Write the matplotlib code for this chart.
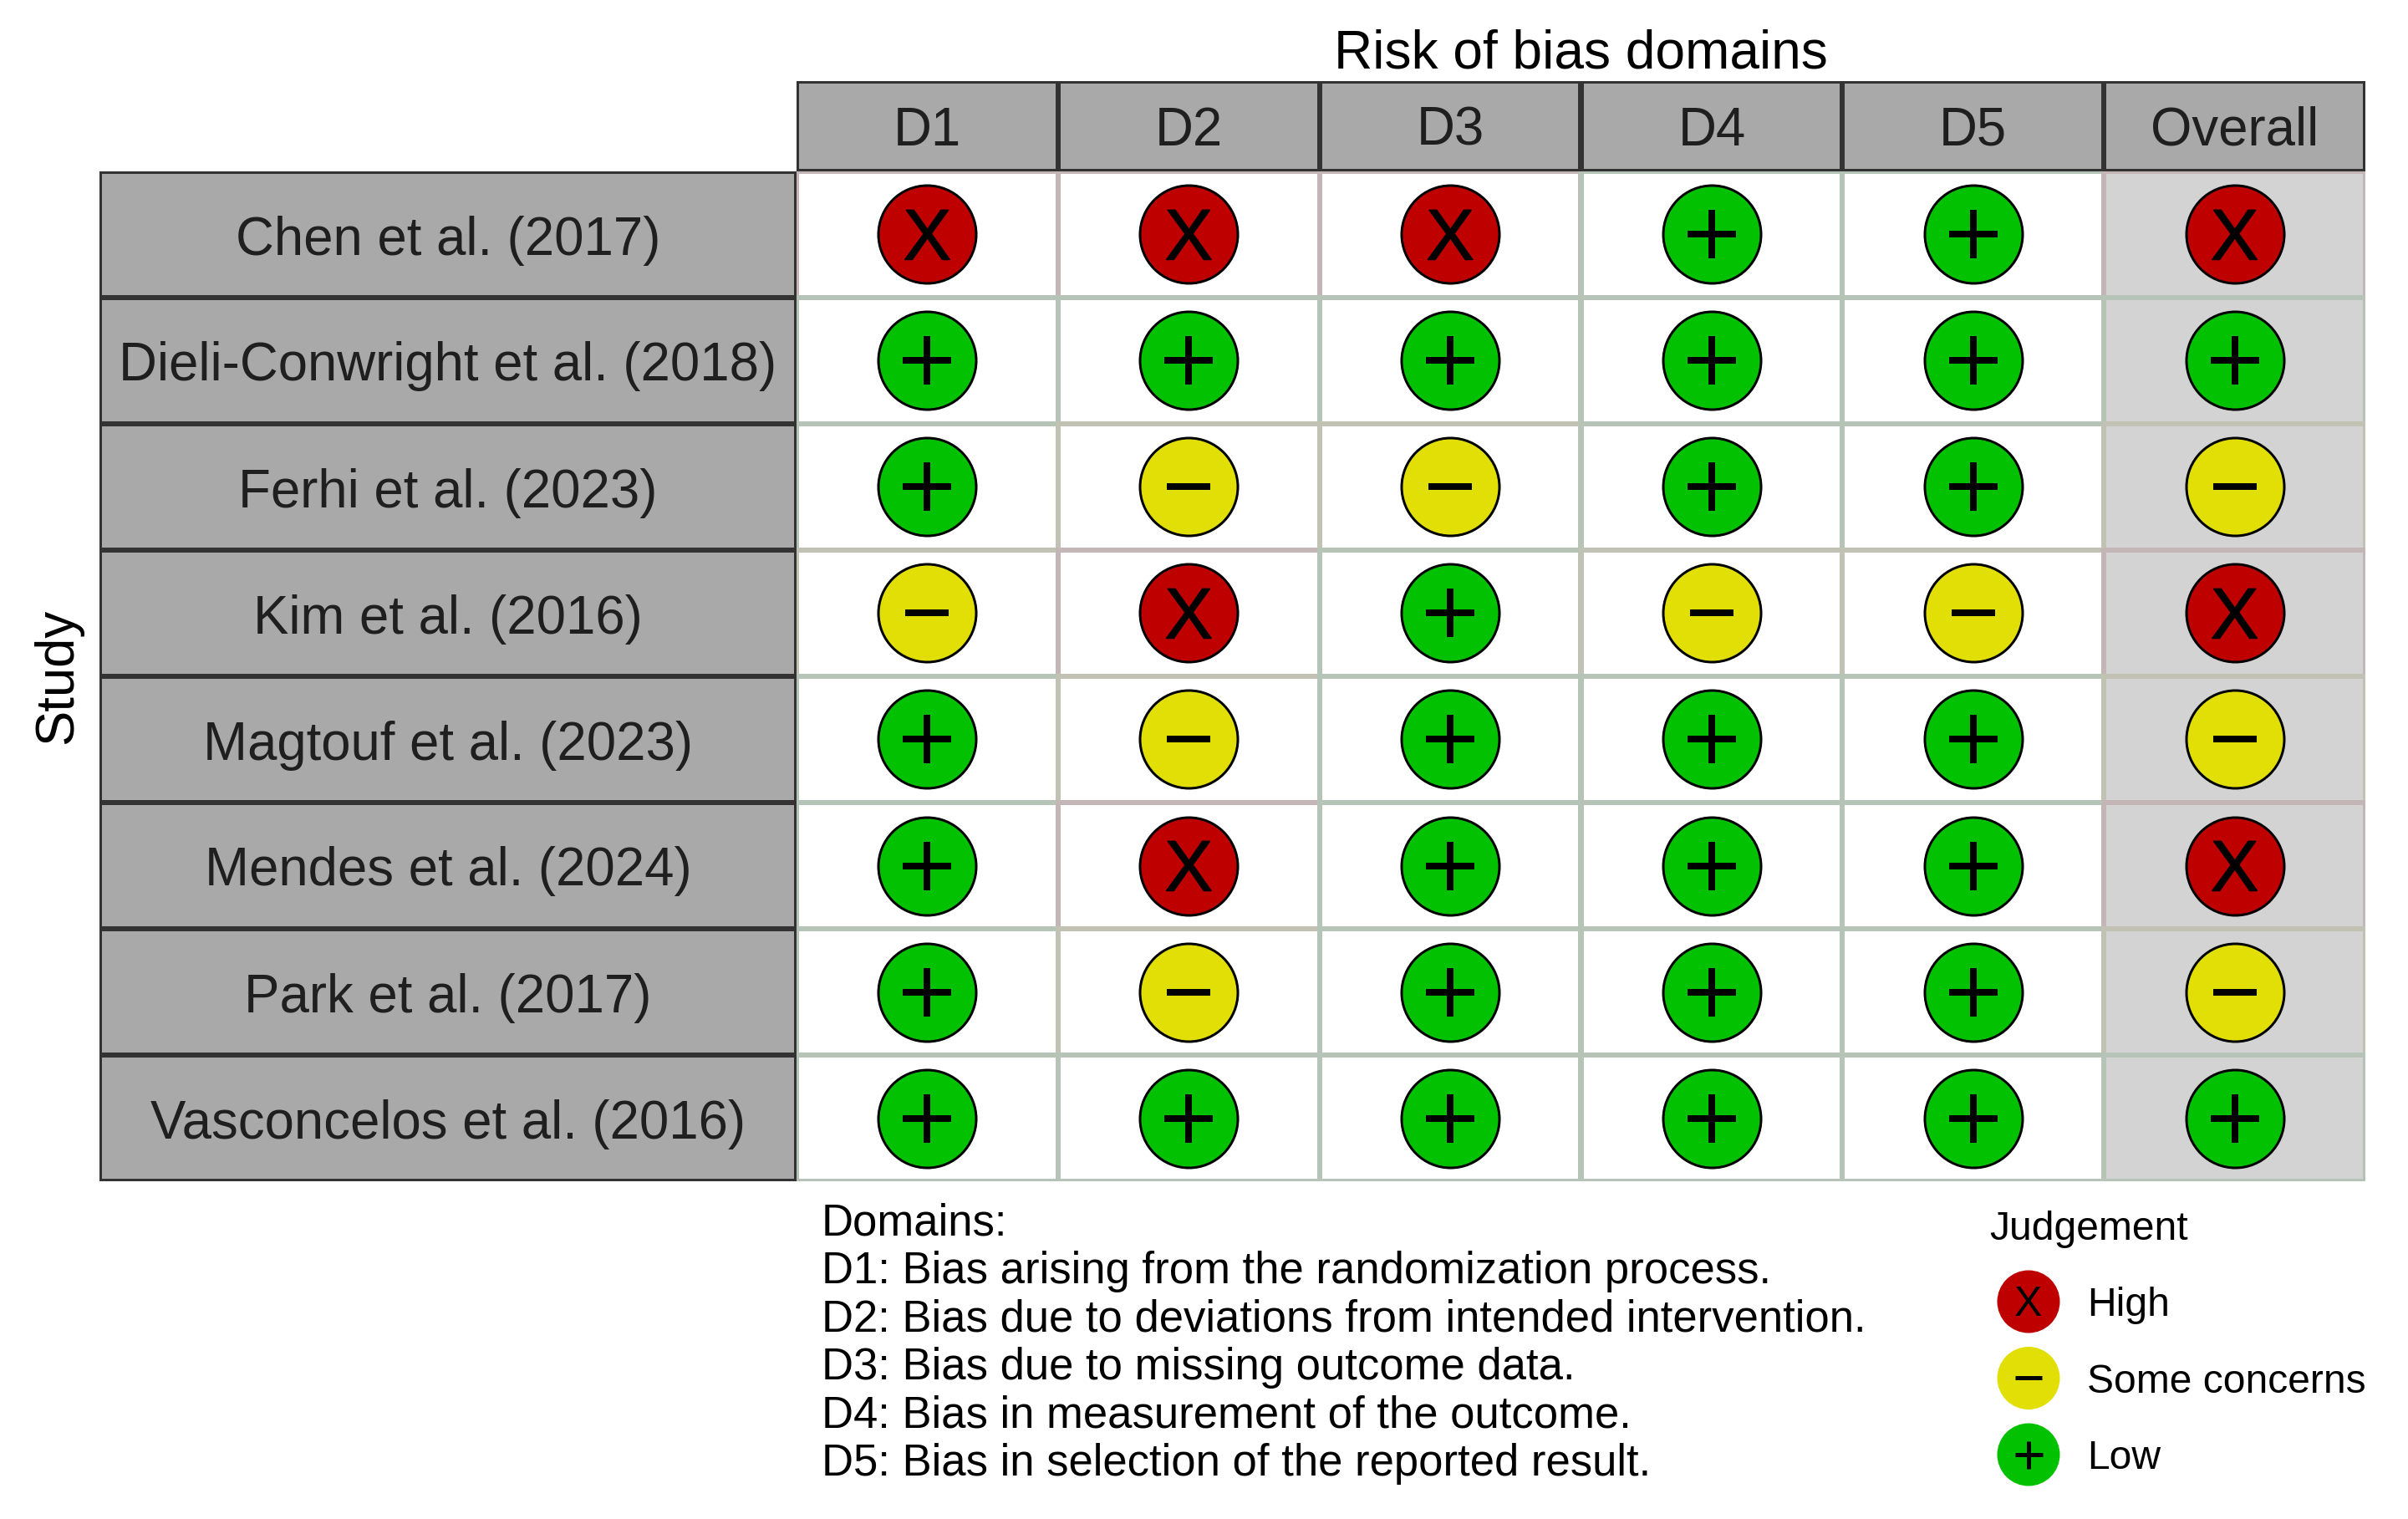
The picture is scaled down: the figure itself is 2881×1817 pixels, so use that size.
import matplotlib
matplotlib.use("Agg")
import matplotlib.pyplot as plt
import matplotlib.patheffects as pe
from matplotlib.patches import Rectangle

plt.rcParams['font.family'] = ['Liberation Sans', 'DejaVu Sans']

studies = ["Chen et al. (2017)", "Dieli-Conwright et al. (2018)", "Ferhi et al. (2023)",
           "Kim et al. (2016)", "Magtouf et al. (2023)", "Mendes et al. (2024)",
           "Park et al. (2017)", "Vasconcelos et al. (2016)"]
domains = ["D1", "D2", "D3", "D4", "D5", "Overall"]
judgements = [
    ["H", "H", "H", "L", "L", "H"],
    ["L", "L", "L", "L", "L", "L"],
    ["L", "S", "S", "L", "L", "S"],
    ["S", "H", "L", "S", "S", "H"],
    ["L", "S", "L", "L", "L", "S"],
    ["L", "H", "L", "L", "L", "H"],
    ["L", "S", "L", "L", "L", "S"],
    ["L", "L", "L", "L", "L", "L"],
]
legend_keys = ["H", "S", "L"]
legend_labels = ["High", "Some concerns", "Low"]
domain_notes = ["Domains:",
                "D1: Bias arising from the randomization process.",
                "D2: Bias due to deviations from intended intervention.",
                "D3: Bias due to missing outcome data.",
                "D4: Bias in measurement of the outcome.",
                "D5: Bias in selection of the reported result."]

W, H = 2881, 1817
DPI = 100
PX = 72 / DPI
FILL = {"H": "#BF0000", "S": "#E2DF07", "L": "#02C100"}
TINT = {"H": "#C4B6B6", "S": "#C2C2B4", "L": "#B6C4B8"}
STRIP = "#A9A9A9"
DARK = "#333333"
TXT = "#1F1F1F"

fig = plt.figure(figsize=(W / DPI, H / DPI), dpi=DPI, facecolor="white")


def axes_px(l, t, r, b):
    ax = fig.add_axes([l / W, 1 - b / H, (r - l) / W, (b - t) / H])
    ax.axis("off")
    return ax


def centered(ax, s, x, y, size_px, cap_px, color, ha="center", bold_px=0):
    """Text centred vertically on its cap height at a data position."""
    t = ax.annotate(s, xy=(x, y), xytext=(0, -cap_px / 2 * PX), textcoords="offset points",
                    ha=ha, va="baseline", fontsize=size_px * PX, color=color)
    if bold_px:
        t.set_path_effects([pe.withStroke(linewidth=bold_px * PX, foreground=color)])
    return t


L, R, T0, T1, B = 953, 2830, 97, 205, 1413
S0 = 119

# header strip
hd = axes_px(L, T0, R, T1)
hd.set_xlim(0, len(domains))
hd.set_ylim(1, 0)
for i, d in enumerate(domains):
    hd.add_patch(Rectangle((i, 0), 1, 1, fc=STRIP, ec=DARK, lw=6 * PX))
    centered(hd, d, i + .5, .5, 63.5, 46, TXT)

# study strip
st = axes_px(S0, T1, L, B)
st.set_xlim(0, 1)
st.set_ylim(len(studies), 0)
for j, s in enumerate(studies):
    st.add_patch(Rectangle((0, j), 1, 1, fc=STRIP, ec=DARK, lw=6 * PX))
    centered(st, s, .5, j + .5, 63.5, 48, TXT)

# main grid
ax = axes_px(L, T1, R, B)
ax.set_xlim(0, len(domains))
ax.set_ylim(len(studies), 0)
for j, row in enumerate(judgements):
    for i, v in enumerate(row):
        bg = "#D3D3D3" if domains[i] == "Overall" else "white"
        ax.add_patch(Rectangle((i, j), 1, 1, fc=bg, ec=TINT[v], lw=6 * PX))
for j, row in enumerate(judgements):
    for i, v in enumerate(row):
        ax.scatter(i + .5, j + .5, s=(117 * PX) ** 2, c=FILL[v], edgecolors="black",
                   linewidths=3 * PX, zorder=3)
        if v == "H":
            centered(ax, "X", i + .5, j + .5, 86, 60, "black", bold_px=1.5)
        elif v == "L":
            ax.scatter(i + .5, j + .5, marker="+", s=(58 * PX) ** 2, c="black",
                       linewidths=8 * PX, zorder=4)
        else:
            ax.scatter(i + .5, j + .5, marker="_", s=(53 * PX) ** 2, c="black",
                       linewidths=8 * PX, zorder=4)

# outer titles
full = axes_px(0, 0, W, H)
full.set_xlim(0, W)
full.set_ylim(H, 0)
full.patch.set_alpha(0)
full.text(1891, 81, "Risk of bias domains", ha="center", va="baseline",
          fontsize=64 * PX, color="black")
full.text(99, 809, "Study", rotation=90, ha="right", va="center",
          fontsize=63.5 * PX, color="black")

# domain notes
for k, line in enumerate(domain_notes):
    full.text(983, 1478 + k * 57.3, line, ha="left", va="baseline",
              fontsize=52.6 * PX, color="black")

# legend
full.text(2380, 1483, "Judgement", ha="left", va="baseline", fontsize=48 * PX, color="black")
for k, (key, lab) in enumerate(zip(legend_keys, legend_labels)):
    y = 1557 + k * 91.5
    full.scatter(2427, y, s=(75 * PX) ** 2, c=FILL[key], edgecolors="none", zorder=3)
    if key == "H":
        centered(full, "X", 2427, y, 50, 34, "black")
    elif key == "L":
        full.scatter(2427, y, marker="+", s=(33 * PX) ** 2, c="black",
                     linewidths=5 * PX, zorder=4)
    else:
        full.scatter(2427, y, marker="_", s=(32 * PX) ** 2, c="black",
                     linewidths=5 * PX, zorder=4)
    centered(full, lab, 2497, y, 48, 34, "black", ha="left")

fig.savefig("out.png", dpi=DPI, facecolor="white")
